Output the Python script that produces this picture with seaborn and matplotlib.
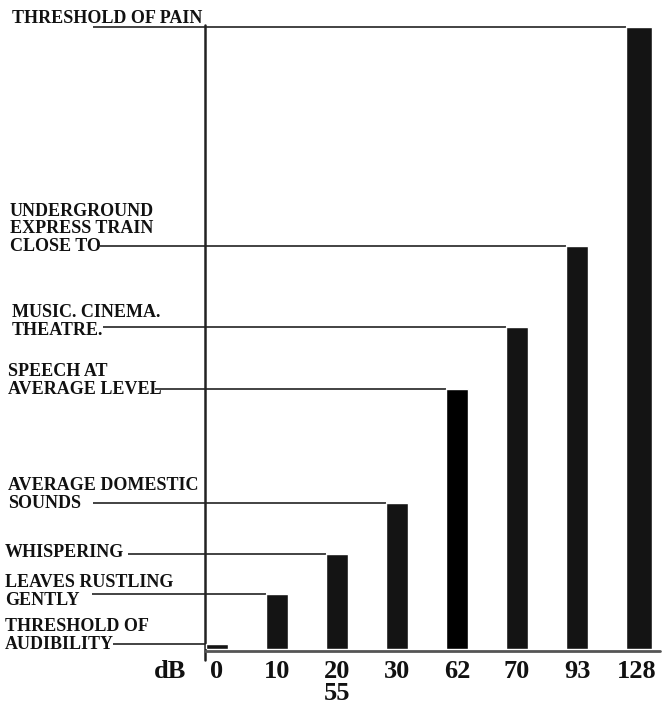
import pandas as pd
import seaborn as sns
import matplotlib.pyplot as plt

# --- data ---
db_labels = ["0", "10", "20\n55", "30", "62", "70", "93", "128"]
sources = [
    "THRESHOLD OF\nAUDIBILITY",
    "LEAVES RUSTLING\nGENTLY",
    "WHISPERING",
    "AVERAGE DOMESTIC\nSOUNDS",
    "SPEECH AT\nAVERAGE LEVEL",
    "MUSIC. CINEMA.\nTHEATRE.",
    "UNDERGROUND\nEXPRESS TRAIN\nCLOSE TO",
    "THRESHOLD OF PAIN",
]
bar_heights = [5, 55, 95, 146, 260, 322, 403, 622]

# --- layout (pixels of the 663x711 picture) ---
label_left_px = [5, 5, 5, 8, 8, 12, 10, 12]
leader_start_px = [113, 92, 128, 93, 155, 103, 100, 93]
label_drop_px = [5, 11, 3, 5, 5, 8, 5, -4]

W, H = 663, 711
BASE_PX = 649
SLOT_PX = 60
FIRST_PX = 217

sns.set_theme(style="white")
plt.rcParams["font.family"] = ["Liberation Serif", "DejaVu Serif"]
plt.rcParams["font.weight"] = "bold"

fig = plt.figure(figsize=(W / 100, H / 100), dpi=100)
ax = fig.add_axes([0, (H - BASE_PX) / H, 1, BASE_PX / H])

xmin = -FIRST_PX / SLOT_PX
xmax = (W - FIRST_PX) / SLOT_PX


def px_x(px):
    return xmin + px / SLOT_PX


df = pd.DataFrame({"db": db_labels, "height": bar_heights})
sns.barplot(data=df, x="db", y="height", color="#141414", width=0.38,
            saturation=1, ax=ax, zorder=3)
ax.patches[4].set_facecolor("black")
ax.patches[7].set_width(0.44)

ax.set_xlim(xmin, xmax)
ax.set_ylim(0, BASE_PX)
for s in ax.spines.values():
    s.set_visible(False)
ax.set_yticks([])
ax.set_xlabel("")
ax.set_ylabel("")
ax.set_xticks(range(len(db_labels)))
ax.set_xticklabels(db_labels, fontsize=19, fontweight="bold", linespacing=0.95)
ax.tick_params(axis="x", length=0, pad=8, colors="#111")

# axis lines
ax.plot([px_x(205)] * 2, [-11, 624], color="#222", lw=1.8, clip_on=False)
ax.plot([px_x(205), px_x(660)], [-1.5, -1.5], color="#555", lw=2, clip_on=False, zorder=2)
ax.text(px_x(170), -11, "dB", ha="center", va="top", fontsize=19,
        fontweight="bold", color="#111", clip_on=False)

# leaders and labels
for i, (txt, h) in enumerate(zip(sources, bar_heights)):
    bar_left = ax.patches[i].get_x()
    ax.hlines(h, px_x(leader_start_px[i]), bar_left, color="#222", lw=1.2,
              clip_on=False)
    ax.text(px_x(label_left_px[i]), h - label_drop_px[i], txt, ha="left",
            va="baseline", fontsize=13, fontweight="bold", color="#111",
            linespacing=1.05, clip_on=False)

fig.savefig("out.png", dpi=100)
